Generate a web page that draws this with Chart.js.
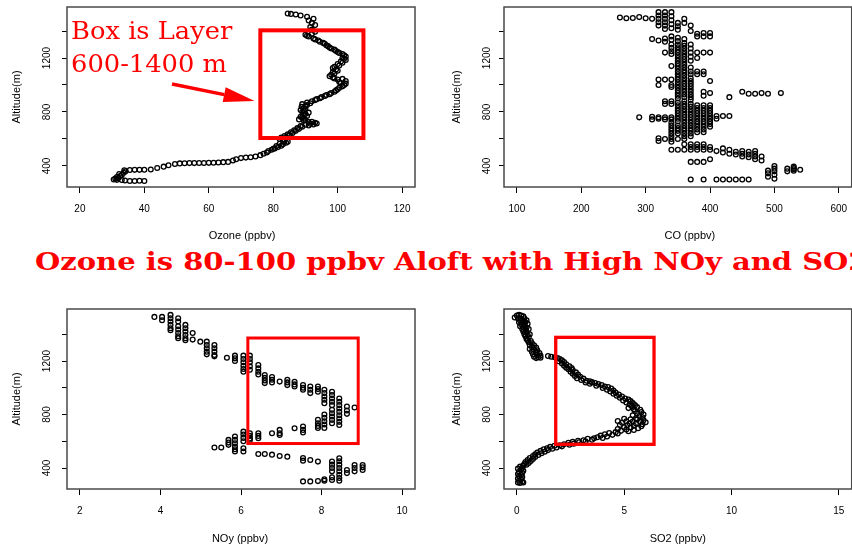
<!DOCTYPE html>
<html>
<head>
<meta charset="utf-8">
<script src="https://cdn.jsdelivr.net/npm/chart.js@4.4.0/dist/chart.umd.min.js"></script>
<style>
  html, body { margin: 0; padding: 0; background: #fff; }
  body { width: 852px; height: 550px; position: relative; overflow: hidden; }
  canvas { position: absolute; }
  #title {
    position: absolute; left: 35px; top: 247px; white-space: nowrap;
    font: bold 25px/30px "DejaVu Serif"; color: #ff0000;
    transform: scaleX(1.16); transform-origin: 0 0;
  }
  #note {
    position: absolute; left: 71px; top: 14px; white-space: nowrap;
    font: 25px/33px "DejaVu Serif"; color: #ff0000;
    transform: scaleX(1.03); transform-origin: 0 0;
  }
</style>
</head>
<body>
<canvas id="ozoneChart" width="426" height="245" style="left:0;top:0"></canvas>
<canvas id="coChart" width="420" height="245" style="left:437px;top:0"></canvas>
<canvas id="noyChart" width="426" height="260" style="left:0;top:290px"></canvas>
<canvas id="so2Chart" width="420" height="260" style="left:437px;top:290px"></canvas>
<div id="note">Box is Layer<br>600-1400 m</div>
<div id="title">Ozone is 80-100 ppbv Aloft with High NOy and SO2</div>
<script>
// ---- data: [value, altitude m] ----
const ozoneProfile = [
  [35.5,289],[37,289],[38.5,290],[40,289],[34,292],[33,296],[31.5,297],[30.5,300],[31,306],[32,310],
  [31.5,318],[32.5,325],[33,333],[32.2,340],[33.6,350],[34.2,360],[33.8,368],[35.5,370],[37,371],[38.5,371],
  [40,372],[42,374],[44,385],[46,395],[47.5,405],[49.5,415],[51,419],[52.5,420],[54,421],[55.5,421],
  [57,422],[58.5,422],[60,423],[61.5,424],[63,426],[64.5,428],[66,430],[67.5,440],[68.5,450],[70,458],
  [71.5,462],[73,465],[74.5,470],[76,480],[77,490],[78,500],[78.5,510],[79.5,520],[80.5,530],[81.5,540],
  [82.5,550],[83,560],[84,572],[83.5,585],[83,597],[82.5,610],[83.5,622],[84.5,635],[85.5,650],[86.5,665],
  [87.5,680],[88.5,695],[90,705],[91.5,712],[93,720],[92,728],[89.5,735],[88,745],[89,758],[90.5,770],
  [90,785],[89,800],[88.5,815],[89.5,830],[90,845],[89,858],[90.5,870],[92,880],[93.5,895],[95,910],
  [96.5,925],[98,940],[99.5,960],[100.5,980],[102,1000],[101,1015],[102.5,1030],[100,1040],[98.5,1055],[98,1075],
  [98.5,1095],[99.5,1115],[99,1135],[100,1155],[101,1175],[102,1195],[102.5,1210],[101.5,1230],[100,1245],[99,1262],
  [97.5,1278],[96.5,1295],[95.5,1312],[94,1330],[92.5,1345],[91,1360],[90,1372],[92,1380],[93,1395],[92,1410],
  [91.5,1430],[93,1445],[92,1460],[91,1478],[92.5,1490],[90.5,1505],[88.5,1515],[87,1522],[85.5,1527],[84.5,1530],
  [80,528],[81,548],[82,565],[84.5,580],[82,600],[84,615],[85,630],[86,645],[87,660],[88,675],
  [89,690],[91,700],[92.5,708],[93.5,715],[91,725],[90,740],[89.5,750],[88.5,765],[89.5,780],[91,795],
  [89.5,808],[90,822],[88.8,838],[90.5,852],[91.5,865],[93,888],[94.5,902],[96,918],[97.5,932],[99,950],
  [100,968],[101.5,990],[102.5,1010],[100.5,1022],[101.5,1045],[99,1048],[97.5,1065],[99,1085],[100,1105],[98.5,1125],
  [100.5,1145],[101.5,1165],[102.5,1185],[101.5,1200],[102,1220],[100.5,1238],[99.5,1252],[98,1270],[97,1288],[96,1305],
  [94.5,1320],[93,1338],[90.5,1365]
];

// CO comes in 10 ppbv steps: [CO ppbv, [altitudes]]
const coColumns = [
  [260, [1500]],
  [270, [1495]],
  [280, [1497]],
  [290, [1503, 760]],
  [300, [1495]],
  [310, [1490, 1340, 765, 745]],
  [320, [1540, 1515, 1490, 1465, 1440, 1330, 1040, 1000, 760, 750, 605, 585]],
  [330, [1540, 1515, 1490, 1465, 1440, 1415, 1345, 1320, 1240, 1040, 880, 860, 760, 745, 600]],
  [340, [1540, 1510, 1480, 1450, 1420, 1360, 1335, 1300, 1275, 1250, 1230, 1140, 1040, 1000, 985, 880, 860,
         760, 745, 720, 700, 680, 660, 640, 620, 600, 580, 520]],
  [350, [1460, 1435, 1410, 1350, 1325, 1300, 1280, 1260, 1240, 1220, 1200, 1180, 1160, 1140, 1120, 1100, 1080,
         1060, 1040, 1020, 1000, 980, 960, 940, 920, 900, 870, 850, 830, 810, 790, 770, 750, 730, 700, 680,
         660, 640, 600, 520]],
  [360, [1490, 1460, 1340, 1310, 1290, 1270, 1250, 1230, 1210, 1190, 1170, 1150, 1130, 1110, 1090, 1070, 1050,
         1030, 1010, 990, 970, 950, 930, 910, 880, 860, 840, 820, 800, 780, 760, 740, 720, 700, 680, 660, 640,
         620, 600, 560, 520]],
  [370, [1440, 1400, 1300, 1270, 1240, 1210, 1180, 1130, 1100, 1080, 1050, 1030, 1010, 990, 970, 950, 930, 910,
         890, 860, 840, 820, 800, 780, 760, 740, 720, 700, 680, 660, 640, 620, 560, 540, 520, 430, 300]],
  [380, [1380, 1360, 1240, 1200, 1100, 1080, 850, 830, 810, 790, 770, 750, 730, 710, 690, 670, 650, 560, 540,
         520, 430]],
  [390, [1385, 1360, 1240, 1100, 1080, 950, 920, 850, 830, 810, 790, 770, 750, 730, 710, 690, 670, 650, 560,
         540, 520, 430, 300]],
  [400, [1385, 1360, 1240, 1030, 940, 850, 830, 810, 790, 770, 750, 730, 710, 690, 540, 520, 450]],
  [410, [770, 750, 510, 300]],
  [420, [770, 530, 500, 300]],
  [430, [910, 770, 520, 490, 300]],
  [440, [505, 485, 300]],
  [450, [950, 510, 490, 470, 300]],
  [460, [935, 505, 485, 465, 300]],
  [470, [935, 510, 490, 470, 450]],
  [480, [940, 470, 440]],
  [490, [935, 365, 345, 320]],
  [500, [400, 380, 360, 335, 305]],
  [510, [940]],
  [520, [380, 360]],
  [530, [395, 385, 375, 365]],
  [540, [372]]
];

// NOy columns: [NOy ppbv, [altitudes]]
const noyColumns = [
  [3.85, [1530]],
  [4.04, [1530, 1505]],
  [4.25, [1545, 1520, 1495, 1470, 1445, 1430]],
  [4.44, [1520, 1495, 1460, 1435, 1410, 1385, 1370]],
  [4.62, [1470, 1445, 1420, 1395, 1370, 1355]],
  [4.80, [1410, 1360]],
  [4.99, [1345]],
  [5.15, [1345, 1320, 1295, 1270, 1250]],
  [5.34, [1320, 1295, 1270, 1245, 1235, 553]],
  [5.51, [553]],
  [5.65, [1225]],
  [5.69, [610, 590, 573]],
  [5.85, [1240, 1220, 1200, 635, 610, 585, 560, 540, 523]],
  [6.06, [1240, 1215, 1190, 1165, 1140, 1120, 672, 650, 625, 600, 548, 523]],
  [6.22, [1240, 1215, 1190, 1160, 1135, 660, 640, 620, 610]],
  [6.43, [1170, 1145, 1120, 1100, 660, 640, 622, 505]],
  [6.59, [1095, 1075, 1055, 1035, 505]],
  [6.77, [1080, 1060, 1040, 660, 500]],
  [6.96, [1046, 685, 660, 647, 490]],
  [7.15, [1060, 1040, 1020, 485]],
  [7.33, [1045, 1025, 1010, 697]],
  [7.54, [1020, 1000, 985, 710, 685, 665, 475, 455, 300]],
  [7.72, [1010, 985, 960, 460, 300]],
  [7.91, [1010, 990, 970, 760, 735, 715, 700, 448, 302]],
  [8.07, [985, 960, 935, 910, 885, 800, 775, 750, 725, 700, 315, 305]],
  [8.26, [970, 945, 920, 895, 870, 835, 810, 785, 760, 735, 448, 425, 400, 375, 330, 310]],
  [8.44, [920, 895, 870, 845, 820, 795, 770, 745, 722, 473, 450, 425, 400, 375, 350, 325, 305]],
  [8.63, [860, 830, 805, 385, 362]],
  [8.82, [852, 423, 400, 375]],
  [9.02, [423, 405, 385]]
];

const so2Profile = [
  [0.0,1540],[0.1,1545],[0.2,1540],[0.3,1535],[-0.1,1525],[0.05,1520],[0.2,1515],[0.35,1520],[0.15,1505],[0.3,1500],
  [0.45,1505],[0.1,1490],[0.25,1485],[0.4,1490],[0.2,1475],[0.35,1470],[0.5,1478],[0.15,1460],[0.3,1455],[0.45,1450],
  [0.25,1440],[0.4,1435],[0.55,1440],[0.3,1420],[0.45,1415],[0.35,1400],[0.5,1395],[0.6,1400],[0.4,1385],[0.55,1378],
  [0.45,1365],[0.5,1355],[0.65,1350],[0.55,1340],[0.7,1332],[0.6,1320],[0.8,1318],[0.7,1305],[0.9,1300],[0.6,1290],
  [0.8,1285],[0.95,1280],[0.7,1270],[0.9,1265],[1.05,1260],[0.75,1250],[0.95,1245],[1.1,1240],[0.8,1232],[1.0,1228],
  [0.9,1222],[1.1,1225],[1.45,1238],[1.6,1232],[1.76,1228],[1.9,1222],[2.0,1215],[2.1,1205],[1.95,1198],[2.2,1192],
  [2.1,1182],[2.3,1175],[2.2,1165],[2.45,1160],[2.3,1150],[2.55,1148],[2.4,1138],[2.6,1132],[2.5,1120],[2.75,1115],
  [2.6,1105],[2.85,1098],[2.7,1088],[2.95,1082],[2.8,1072],[3.1,1068],[3.0,1058],[3.25,1052],[3.4,1048],[3.2,1040],
  [3.5,1042],[3.65,1035],[3.4,1030],[3.8,1028],[3.95,1020],[3.7,1015],[4.1,1010],[4.25,1005],[4.0,998],[4.4,995],
  [4.2,985],[4.5,980],[4.35,972],[4.6,965],[4.5,955],[4.75,950],[4.65,940],[4.9,935],[4.8,925],[5.05,920],
  [5.2,912],[4.95,905],[5.3,900],[5.1,890],[5.4,885],[5.25,875],[5.5,870],[5.35,862],[5.6,855],[5.2,848],
  [5.45,840],[5.75,835],[5.5,825],[5.8,818],[5.6,808],[5.9,800],[5.4,795],[5.7,788],[5.85,780],[5.55,772],
  [5.0,768],[5.3,765],[5.6,762],[5.9,758],[4.7,752],[5.1,750],[5.4,748],[5.75,745],[6.0,742],[4.9,738],
  [5.25,735],[5.55,732],[5.85,728],[4.8,722],[5.15,720],[5.45,716],[5.8,712],[5.0,705],[5.3,702],[5.65,698],
  [4.7,692],[5.1,688],[5.45,685],[4.85,678],[5.2,675],[4.6,668],[4.3,662],[4.7,658],[4.1,652],[4.45,648],
  [3.9,642],[4.2,636],[3.75,630],[4.0,625],[3.6,622],[3.3,618],[3.5,612],[3.1,608],[2.85,604],[3.2,600],
  [2.6,596],[2.9,592],[2.4,588],[2.65,582],[2.2,578],[2.45,574],[2.0,570],[1.75,566],[2.1,562],[1.55,558],
  [1.85,554],[1.4,548],[1.65,544],[1.25,540],[1.45,534],[1.1,528],[1.3,522],[0.95,516],[1.15,510],[0.85,503],
  [1.0,498],[0.75,490],[0.85,482],[0.6,475],[0.75,468],[0.5,460],[0.65,452],[0.4,445],[0.55,438],[0.35,430],
  [0.45,424],[0.3,418],[0.15,410],[0.25,402],[0.05,395],[0.2,388],[0.3,380],[0.1,372],[0.25,365],[0.05,355],
  [0.2,348],[0.1,340],[0.25,332],[0.05,322],[0.2,315],[0.1,305],[0.25,298],[0.05,292],[0.15,288],[0.3,292]
];

// axis ticks
const ozoneTicks = [20, 40, 60, 80, 100, 120];
const coTicks = [100, 200, 300, 400, 500, 600];
const noyTicks = [2, 4, 6, 8, 10];
const so2Ticks = [0, 5, 10, 15];
const altTicks = [400, 600, 800, 1000, 1200, 1400];
const altLabels = [400, 800, 1200];

// highlighted layer boxes [xMin, xMax, altMin, altMax] and the arrow [x0, alt0, x1, alt1]
const ozoneBox = [76, 108, 607, 1405];
const noyBox = [6.17, 8.91, 583, 1372];
const so2Box = [1.81, 6.39, 577, 1377];
const ozoneArrow = [48.6, 1008, 74.2, 882];

const fromPairs = list => list.map(([v, a]) => ({ x: v, y: a }));
const fromColumns = cols => cols.flatMap(([v, alts]) => alts.map(a => ({ x: v, y: a })));

const framePlugin = {
  id: 'frame',
  afterDraw(chart, args, opts) {
    const { ctx, chartArea: a } = chart;
    const xs = chart.scales.x, ys = chart.scales.y;
    ctx.save();
    ctx.strokeStyle = '#4a4a4a';
    ctx.lineWidth = 1.5;
    ctx.strokeRect(a.left, a.top, a.right - a.left, a.bottom - a.top);

    ctx.fillStyle = '#000';
    ctx.textAlign = 'center';
    ctx.textBaseline = 'middle';
    ctx.font = '10px "Liberation Sans"';
    altLabels.forEach(v => {
      ctx.save();
      ctx.translate(a.left - opts.yLabelGap, ys.getPixelForValue(v));
      ctx.rotate(-Math.PI / 2);
      ctx.fillText(String(v), 0, 0);
      ctx.restore();
    });

    ctx.font = '11px "Liberation Sans"';
    ctx.fillText(opts.xTitle, (a.left + a.right) / 2 + opts.xTitleShift, opts.xTitleY);
    ctx.save();
    ctx.translate(a.left - opts.yTitleGap, (a.top + a.bottom) / 2);
    ctx.rotate(-Math.PI / 2);
    ctx.fillText('Altitude(m)', 0, 0);
    ctx.restore();

    if (opts.box) {
      const [x0, x1, y0, y1] = opts.box;
      const l = xs.getPixelForValue(x0), r = xs.getPixelForValue(x1);
      const t = ys.getPixelForValue(y1), b = ys.getPixelForValue(y0);
      ctx.strokeStyle = '#ff0000';
      ctx.lineWidth = opts.boxWidth;
      ctx.strokeRect(l, t, r - l, b - t);
    }

    if (opts.arrow) {
      const [ax0, ay0, ax1, ay1] = opts.arrow;
      const sx = xs.getPixelForValue(ax0), sy = ys.getPixelForValue(ay0);
      const tx = xs.getPixelForValue(ax1), ty = ys.getPixelForValue(ay1);
      const len = Math.hypot(tx - sx, ty - sy);
      const ux = (tx - sx) / len, uy = (ty - sy) / len;
      const head = 31, half = 7.5;
      const bx = tx - ux * head, by = ty - uy * head;
      ctx.strokeStyle = '#ff0000';
      ctx.fillStyle = '#ff0000';
      ctx.lineWidth = 3.5;
      ctx.beginPath();
      ctx.moveTo(sx, sy);
      ctx.lineTo(bx, by);
      ctx.stroke();
      ctx.beginPath();
      ctx.moveTo(tx, ty);
      ctx.lineTo(bx - uy * half, by + ux * half);
      ctx.lineTo(bx + uy * half, by - ux * half);
      ctx.closePath();
      ctx.fill();
    }
    ctx.restore();
  }
};

function makePanel(id, cfg) {
  return new Chart(document.getElementById(id), {
    type: 'scatter',
    data: {
      datasets: [{
        data: cfg.points,
        pointStyle: 'circle',
        pointRadius: 2.4,
        pointBorderWidth: 1.3,
        pointBorderColor: '#000',
        pointBackgroundColor: 'rgba(255,255,255,0)'
      }]
    },
    options: {
      responsive: false,
      animation: false,
      events: [],
      layout: { padding: cfg.padding },
      plugins: {
        legend: { display: false },
        tooltip: { enabled: false },
        frame: cfg.frame
      },
      scales: {
        x: {
          type: 'linear',
          min: cfg.xMin,
          max: cfg.xMax,
          afterBuildTicks: s => { s.ticks = cfg.xTicks.map(v => ({ value: v })); },
          afterFit: s => { s.height = cfg.xHeight; s.paddingLeft = 0; s.paddingRight = 0; },
          grid: { drawOnChartArea: false, drawTicks: true, tickLength: 6, color: '#000', lineWidth: 1 },
          border: { display: false },
          ticks: { autoSkip: false, maxRotation: 0, padding: 10, color: '#000', font: { family: 'Liberation Sans', size: 10 } }
        },
        y: {
          type: 'linear',
          min: cfg.yMin,
          max: cfg.yMax,
          afterBuildTicks: s => { s.ticks = altTicks.map(v => ({ value: v })); },
          afterFit: s => { s.width = 67; s.paddingTop = 0; s.paddingBottom = 0; },
          grid: { drawOnChartArea: false, drawTicks: true, tickLength: 5, color: '#000', lineWidth: 1 },
          border: { display: false },
          ticks: { display: false }
        }
      }
    },
    plugins: [framePlugin]
  });
}

makePanel('ozoneChart', {
  points: fromPairs(ozoneProfile),
  xMin: 16, xMax: 124, xTicks: ozoneTicks, yMin: 244, yMax: 1578,
  padding: { left: 0, right: 11, top: 7, bottom: 0 }, xHeight: 58,
  frame: { xTitle: 'Ozone (ppbv)', xTitleShift: 1, xTitleY: 236, yLabelGap: 20, yTitleGap: 50,
           box: ozoneBox, boxWidth: 4, arrow: ozoneArrow }
});

makePanel('coChart', {
  points: fromColumns(coColumns),
  xMin: 80, xMax: 620, xTicks: coTicks, yMin: 244, yMax: 1578,
  padding: { left: 0, right: 3, top: 7, bottom: 0 }, xHeight: 58,
  frame: { xTitle: 'CO (ppbv)', xTitleShift: 12, xTitleY: 236, yLabelGap: 17, yTitleGap: 47 }
});

makePanel('noyChart', {
  points: fromColumns(noyColumns),
  xMin: 1.68, xMax: 10.32, xTicks: noyTicks, yMin: 243, yMax: 1589,
  padding: { left: 0, right: 11, top: 19, bottom: 0 }, xHeight: 61,
  frame: { xTitle: 'NOy (ppbv)', xTitleShift: -1, xTitleY: 249, yLabelGap: 20, yTitleGap: 50,
           box: noyBox, boxWidth: 3 }
});

makePanel('so2Chart', {
  points: fromPairs(so2Profile),
  xMin: -0.6, xMax: 15.6, xTicks: so2Ticks, yMin: 243, yMax: 1589,
  padding: { left: 0, right: 3, top: 19, bottom: 0 }, xHeight: 61,
  frame: { xTitle: 'SO2 (ppbv)', xTitleShift: 0, xTitleY: 249, yLabelGap: 17, yTitleGap: 47,
           box: so2Box, boxWidth: 3.3 }
});
</script>
</body>
</html>
